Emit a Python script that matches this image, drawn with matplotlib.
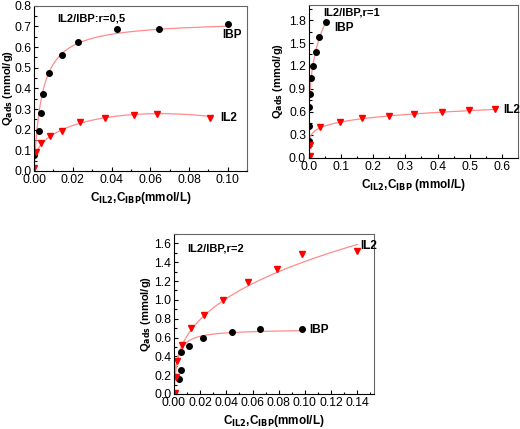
import numpy as np
import matplotlib
matplotlib.use("Agg")
from matplotlib import pyplot as plt
from matplotlib.ticker import AutoMinorLocator

plt.rcParams['font.family'] = ['Liberation Sans', 'DejaVu Sans']
plt.rcParams['mathtext.default'] = 'bf'

# r = 0.5
c_ibp_1 = [0.0002, 0.0026, 0.0038, 0.0046, 0.0077, 0.0146, 0.0226, 0.0426, 0.0646, 0.1000]
q_ibp_1 = [0.077, 0.194, 0.279, 0.371, 0.477, 0.563, 0.623, 0.690, 0.690, 0.713]
c_il2_1 = [0.0002, 0.0009, 0.0038, 0.0080, 0.0146, 0.0238, 0.0366, 0.0514, 0.0635, 0.0906]
q_il2_1 = [0.013, 0.094, 0.134, 0.171, 0.194, 0.235, 0.255, 0.271, 0.274, 0.255]

# r = 1
c_ibp_2 = [0.0005, 0.0010, 0.0015, 0.0020, 0.0070, 0.0130, 0.0210, 0.0320, 0.0520]
q_ibp_2 = [0.218, 0.420, 0.663, 0.837, 1.040, 1.200, 1.380, 1.580, 1.770]
c_il2_2 = [0.0020, 0.0050, 0.0340, 0.0970, 0.1650, 0.2500, 0.3270, 0.4140, 0.4980, 0.5800]
q_il2_2 = [0.030, 0.166, 0.397, 0.467, 0.515, 0.545, 0.571, 0.602, 0.624, 0.632]

# r = 2
c_ibp_3 = [0.0038, 0.0054, 0.0056, 0.0118, 0.0220, 0.0440, 0.0660, 0.0980]
q_ibp_3 = [0.163, 0.252, 0.445, 0.507, 0.600, 0.660, 0.690, 0.688]
c_il2_3 = [0.0005, 0.0015, 0.0020, 0.0062, 0.0130, 0.0230, 0.0378, 0.0565, 0.0790, 0.0976, 0.1400]
q_il2_3 = [0.010, 0.177, 0.350, 0.525, 0.706, 0.844, 0.996, 1.188, 1.330, 1.490, 1.520]

# fitted isotherm parameters
lang_1 = (0.73, 245.0)        # qm, K
il2_1 = (0.82, 0.33, 13.0)    # A*c^n - B*c^2
freu_ibp_2 = (3.87, 0.265)    # K*c^n
freu_il2_2 = (0.694, 0.17)
freu_il2_3 = (3.21, 0.358)
lang_3 = (0.69, 396.0)

def langmuir(c, qm, k):
    return qm * k * c / (1 + k * c)

def freundlich(c, k, n):
    return k * c ** n

line_col = '#ff8c8c'
red = '#ff0000'

fig = plt.figure(figsize=(5.2, 4.29), dpi=100)

def style(ax, xlim, ylim, xticks, yticks, xfmt, yfmt, xlabel, ylab_x):
    ax.set_xlim(*xlim)
    ax.set_ylim(*ylim)
    ax.set_xticks(xticks)
    ax.set_yticks(yticks)
    ax.set_xticklabels([xfmt.format(v) for v in xticks])
    ax.set_yticklabels([yfmt.format(v) for v in yticks])
    ax.xaxis.set_minor_locator(AutoMinorLocator(2))
    ax.yaxis.set_minor_locator(AutoMinorLocator(2))
    ax.tick_params(which='both', direction='in', labelsize=8.8, width=0.8)
    ax.tick_params(which='major', length=3, pad=2)
    ax.tick_params(which='minor', length=1.8)
    ax.set_ylabel('Q$_{ads}$ (mmol/g)', fontsize=8, fontweight='bold')
    ax.yaxis.set_label_coords(ylab_x, 0.5)
    ax.set_xlabel(xlabel, fontsize=8.5, fontweight='bold', labelpad=3)
    for s in ax.spines.values():
        s.set_linewidth(0.8)
    ax.spines['top'].set_color('#666666')
    ax.spines['right'].set_color('#666666')

# panel 1
ax1 = fig.add_axes([0.0654, 0.6014, 0.410, 0.385])
cc = np.linspace(0, 0.1, 300)
ax1.plot(cc, langmuir(cc, *lang_1), color=line_col, lw=0.9)
cc = np.linspace(0, 0.0906, 300)
ax1.plot(cc, il2_1[0] * cc ** il2_1[1] - il2_1[2] * cc ** 2, color=line_col, lw=0.9)
ax1.plot(c_ibp_1, q_ibp_1, 'o', color='black', ms=4)
ax1.plot(c_il2_1, q_il2_1, 'v', color=red, ms=4.5)
style(ax1, (0, 0.11), (0, 0.8), [0, 0.02, 0.04, 0.06, 0.08, 0.10],
      [0, 0.1, 0.2, 0.3, 0.4, 0.5, 0.6, 0.7, 0.8], '{:.2f}', '{:.1f}',
      'C$_{IL2}$,C$_{IBP}$(mmol/L)', -0.09)
ax1.text(0.012, 0.74, 'IL2/IBP:r=0,5', fontsize=8, fontweight='bold', va='center')
ax1.text(0.097, 0.66, 'IBP', fontsize=8.5, fontweight='bold', va='center')
ax1.text(0.096, 0.255, 'IL2', fontsize=8.5, fontweight='bold', va='center')

# panel 2
ax2 = fig.add_axes([0.594, 0.632, 0.402, 0.357])
cc = np.linspace(0, 0.052, 300)
ax2.plot(cc, freundlich(cc, *freu_ibp_2), color=line_col, lw=0.9)
cc = np.linspace(0.0005, 0.58, 400)
ax2.plot(cc, freundlich(cc, *freu_il2_2), color=line_col, lw=0.9)
ax2.plot(c_ibp_2, q_ibp_2, 'o', color='black', ms=4)
ax2.plot(c_il2_2, q_il2_2, 'v', color=red, ms=4.5)
style(ax2, (0, 0.65), (0, 2.0), [0, 0.1, 0.2, 0.3, 0.4, 0.5, 0.6],
      [0, 0.3, 0.6, 0.9, 1.2, 1.5, 1.8], '{:.1f}', '{:.1f}',
      'C$_{IL2}$,C$_{IBP}$ (mmol/L)', -0.115)
ax2.text(0.045, 1.9, 'IL2/IBP,r=1', fontsize=8, fontweight='bold', va='center')
ax2.text(0.08, 1.7, 'IBP', fontsize=8.5, fontweight='bold', va='center')
ax2.text(0.605, 0.62, 'IL2', fontsize=8.5, fontweight='bold', va='center')

# panel 3
ax3 = fig.add_axes([0.3346, 0.0816, 0.385, 0.373])
cc = np.linspace(0, 0.14, 400)
ax3.plot(cc, freundlich(cc, *freu_il2_3), color=line_col, lw=0.9)
cc = np.linspace(0, 0.098, 300)
ax3.plot(cc, langmuir(cc, *lang_3), color=line_col, lw=0.9)
ax3.plot(c_ibp_3, q_ibp_3, 'o', color='black', ms=4)
ax3.plot(c_il2_3, q_il2_3, 'v', color=red, ms=4.5)
style(ax3, (0, 0.153), (0, 1.7), [0, 0.02, 0.04, 0.06, 0.08, 0.10, 0.12, 0.14],
      [0, 0.2, 0.4, 0.6, 0.8, 1.0, 1.2, 1.4, 1.6], '{:.2f}', '{:.1f}',
      'C$_{IL2}$,C$_{IBP}$(mmol/L)', -0.105)
ax3.text(0.01, 1.55, 'IL2/IBP,r=2', fontsize=8, fontweight='bold', va='center')
ax3.text(0.142, 1.57, 'IL2', fontsize=8.5, fontweight='bold', va='center')
ax3.text(0.103, 0.68, 'IBP', fontsize=8.5, fontweight='bold', va='center')

fig.savefig('out.png', dpi=100)
